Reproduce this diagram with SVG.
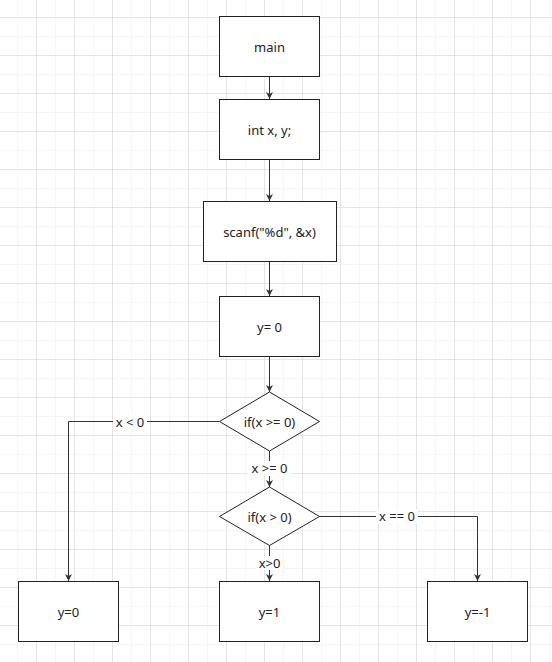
<svg xmlns="http://www.w3.org/2000/svg" width="552" height="662" viewBox="0 0 552 662">
<defs>
<pattern id="minor" x="-1" y="-1" width="19" height="19" patternUnits="userSpaceOnUse">
<path d="M19 0V19M0 19H19" fill="none" stroke="#ececec" stroke-width="1"/>
</pattern>
<pattern id="major" x="-1" y="-20" width="38" height="38" patternUnits="userSpaceOnUse">
<path d="M38 0V38M0 38H38" fill="none" stroke="#d4d4d4" stroke-width="1"/>
</pattern>
<marker id="arr" viewBox="0 0 10 10" refX="10" refY="5" markerWidth="7" markerHeight="7" orient="auto" markerUnits="userSpaceOnUse">
<path d="M0 0L10 5L0 10L3 5Z" fill="#333"/>
</marker>
<style>
.box{fill:#fff;stroke:#222;stroke-width:1}
.t{font-family:"Noto Sans","Liberation Sans",sans-serif;font-size:13px;fill:#222;text-anchor:middle;dominant-baseline:central}
.c{fill:none;stroke:#333;stroke-width:1}
.lb{fill:#fff}
</style>
</defs>
<rect width="552" height="662" fill="#fff"/>
<rect width="552" height="662" fill="url(#minor)"/>
<rect width="552" height="662" fill="url(#major)"/>

<g id="connectors">
<path class="c" d="M269.5 76V99" marker-end="url(#arr)"/>
<path class="c" d="M269.5 159V201" marker-end="url(#arr)"/>
<path class="c" d="M269.5 261V296" marker-end="url(#arr)"/>
<path class="c" d="M269.5 356V392" marker-end="url(#arr)"/>
<path class="c" d="M269.5 451V487" marker-end="url(#arr)"/>
<path class="c" d="M219 421.5H68.5V581" marker-end="url(#arr)"/>
<path class="c" d="M319 516.5H477.5V581" marker-end="url(#arr)"/>
<path class="c" d="M269.5 545V581" marker-end="url(#arr)"/>
<rect class="lb" x="113" y="414" width="34" height="16"/>
<text class="t" x="130" y="422">x &lt; 0</text>
<rect class="lb" x="247" y="461" width="45" height="15"/>
<text class="t" x="269.5" y="468">x &gt;= 0</text>
<rect class="lb" x="376" y="509" width="42" height="15"/>
<text class="t" x="397" y="516">x == 0</text>
<rect class="lb" x="256" y="556" width="27" height="14"/>
<text class="t" x="269.5" y="563">x&gt;0</text>
</g>

<g id="main"><rect class="box" x="219.5" y="16.5" width="100" height="60"/><text class="t" x="269.5" y="47">main</text></g>
<g id="decl"><rect class="box" x="219.5" y="99.5" width="100" height="60"/><text class="t" x="269.5" y="130">int x, y;</text></g>
<g id="scanf"><rect class="box" x="203.5" y="201.5" width="133" height="60"/><text class="t" x="269.5" y="232">scanf("%d", &amp;x)</text></g>
<g id="init"><rect class="box" x="219.5" y="296.5" width="100" height="60"/><text class="t" x="269.5" y="327">y= 0</text></g>
<g id="cond1"><path class="box" d="M269.5 392L319.5 421.5L269.5 451L219.5 421.5Z"/><text class="t" x="269.5" y="422">if(x &gt;= 0)</text></g>
<g id="cond2"><path class="box" d="M269.5 487L319.5 516.5L269.5 545.5L219.5 516.5Z"/><text class="t" x="269.5" y="517">if(x &gt; 0)</text></g>
<g id="neg"><rect class="box" x="18.5" y="581.5" width="100" height="60"/><text class="t" x="68.5" y="612">y=0</text></g>
<g id="pos"><rect class="box" x="219.5" y="581.5" width="100" height="60"/><text class="t" x="269.5" y="612">y=1</text></g>
<g id="zero"><rect class="box" x="427.5" y="581.5" width="100" height="60"/><text class="t" x="477.5" y="612">y=-1</text></g>
</svg>
